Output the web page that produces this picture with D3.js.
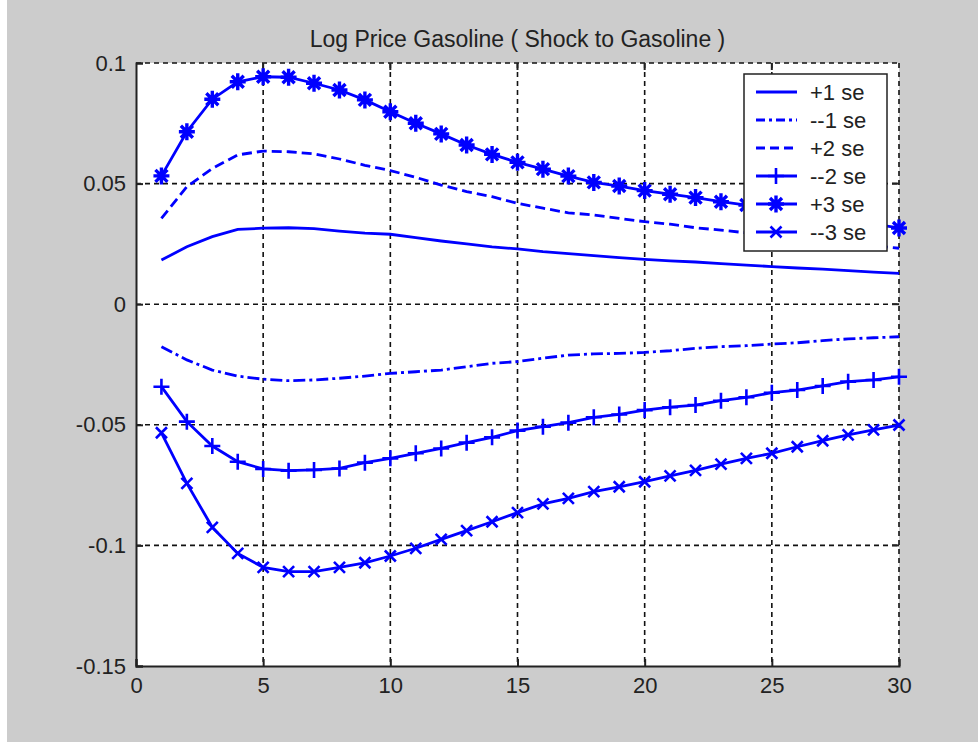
<!DOCTYPE html>
<html>
<head>
<meta charset="utf-8">
<script src="https://cdn.jsdelivr.net/npm/d3@7"></script>
<style>
  html, body { margin: 0; padding: 0; background: #fff; }
  svg { display: block; }
  text { font-family: "Liberation Sans", Arial, sans-serif; fill: #222; }
</style>
</head>
<body>
<svg id="chart" width="978" height="742"></svg>
<script>
// horizon steps
const steps = [1, 2, 3, 4, 5, 6, 7, 8, 9, 10, 11, 12, 13, 14, 15, 16, 17, 18, 19, 20, 21, 22, 23, 24, 25, 26, 27, 28, 29, 30]

const plus1 = [0.0183, 0.0238, 0.0280, 0.0310, 0.0315, 0.0317, 0.0313, 0.0303, 0.0295, 0.0290, 0.0276, 0.0262, 0.0250, 0.0238, 0.0229, 0.0218, 0.0210, 0.0201, 0.0193, 0.0186, 0.0180, 0.0175, 0.0168, 0.0162, 0.0156, 0.0150, 0.0145, 0.0139, 0.0133, 0.0128]
const minus1 = [-0.0176, -0.0231, -0.0273, -0.0298, -0.0311, -0.0317, -0.0314, -0.0307, -0.0298, -0.0287, -0.0280, -0.0273, -0.0259, -0.0245, -0.0238, -0.0224, -0.0211, -0.0206, -0.0204, -0.0200, -0.0193, -0.0183, -0.0176, -0.0172, -0.0165, -0.0160, -0.0151, -0.0144, -0.0139, -0.0135]
const plus2 = [0.0356, 0.0487, 0.0563, 0.0619, 0.0635, 0.0632, 0.0623, 0.0602, 0.0576, 0.0554, 0.0526, 0.0494, 0.0467, 0.0446, 0.0418, 0.0398, 0.0379, 0.0370, 0.0356, 0.0342, 0.0332, 0.0317, 0.0307, 0.0296, 0.0285, 0.0274, 0.0263, 0.0252, 0.0242, 0.0232]
const minus2 = [-0.0342, -0.0487, -0.0588, -0.0653, -0.0683, -0.0690, -0.0687, -0.0681, -0.0657, -0.0639, -0.0618, -0.0598, -0.0574, -0.0552, -0.0524, -0.0508, -0.0491, -0.0469, -0.0457, -0.0439, -0.0427, -0.0418, -0.0400, -0.0386, -0.0367, -0.0356, -0.0339, -0.0321, -0.0314, -0.0301]
const plus3 = [0.0532, 0.0715, 0.0850, 0.0922, 0.0943, 0.0941, 0.0916, 0.0888, 0.0847, 0.0798, 0.0750, 0.0706, 0.0660, 0.0621, 0.0588, 0.0560, 0.0531, 0.0505, 0.0490, 0.0471, 0.0456, 0.0442, 0.0425, 0.0411, 0.0395, 0.0380, 0.0364, 0.0348, 0.0332, 0.0316]
const minus3 = [-0.0533, -0.0743, -0.0925, -0.1033, -0.1091, -0.1109, -0.1109, -0.1091, -0.1072, -0.1044, -0.1012, -0.0975, -0.0939, -0.0902, -0.0864, -0.0828, -0.0805, -0.0777, -0.0757, -0.0736, -0.0712, -0.0689, -0.0663, -0.0639, -0.0618, -0.0591, -0.0566, -0.0542, -0.0521, -0.0501]

const seriesNames = ['+1 se', '--1 se', '+2 se', '--2 se', '+3 se', '--3 se']
const xTicks = [0, 5, 10, 15, 20, 25, 30]
const yTicks = [-0.15, -0.1, -0.05, 0, 0.05, 0.1]
const yTickLabels = ['-0.15', '-0.1', '-0.05', '0', '0.05', '0.1']

const series = [
  { name: seriesNames[0], values: plus1, dash: null, legendDash: null, marker: null },
  { name: seriesNames[1], values: minus1, dash: '12,4,3,4', legendDash: '9,4,3,4', marker: null },
  { name: seriesNames[2], values: plus2, dash: '10,5', legendDash: '9,5', marker: null },
  { name: seriesNames[3], values: minus2, dash: null, legendDash: null, marker: 'plus' },
  { name: seriesNames[4], values: plus3, dash: null, legendDash: null, marker: 'star' },
  { name: seriesNames[5], values: minus3, dash: null, legendDash: null, marker: 'cross' }
]

const W = 978
const H = 742
const margin = { left: 136, right: 79, top: 63, bottom: 76 }
const blue = '#0000ff'

const svg = d3.select('#chart')

// figure background
svg.append('rect').attr('x', 0).attr('y', 0).attr('width', W).attr('height', H).attr('fill', '#fff')
svg.append('rect').attr('x', 7).attr('y', 0).attr('width', W - 7).attr('height', H).attr('fill', '#cccccc')

const x = d3.scaleLinear().domain([0, 30]).range([margin.left, W - margin.right])
const y = d3.scaleLinear().domain([-0.15, 0.1]).range([H - margin.bottom, margin.top])

const x0 = x.range()[0], x1 = x.range()[1]
const y0 = y.range()[0], y1 = y.range()[1]

svg.append('rect')
  .attr('x', x0).attr('y', y1)
  .attr('width', x1 - x0).attr('height', y0 - y1)
  .attr('fill', '#fff')

// dashed grid
const grid = svg.append('g')
grid.selectAll('line.vg')
  .data(xTicks.filter(d => d > 0 && d < 30))
  .enter().append('line')
  .attr('x1', d => x(d)).attr('x2', d => x(d))
  .attr('y1', y1).attr('y2', y0)
grid.selectAll('line.hg')
  .data(yTicks.filter(d => d > -0.15 && d < 0.1))
  .enter().append('line')
  .attr('y1', d => y(d)).attr('y2', d => y(d))
  .attr('x1', x0).attr('x2', x1)
// top/right edges are dashed grid too
grid.append('line').attr('x1', x0).attr('x2', x1).attr('y1', y1).attr('y2', y1)
grid.append('line').attr('x1', x1).attr('x2', x1).attr('y1', y1).attr('y2', y0)
grid.selectAll('line')
  .attr('stroke', '#111')
  .attr('stroke-width', 1.6)
  .attr('stroke-dasharray', '5,4')

// axes
const xAxis = d3.axisBottom(x).tickValues(xTicks).tickSize(-7).tickPadding(12).tickFormat(d3.format('d'))
const yAxis = d3.axisLeft(y).tickValues(yTicks).tickSize(-7).tickPadding(10)
  .tickFormat((d, i) => yTickLabels[i])

const gx = svg.append('g').attr('transform', `translate(0,${y0})`).call(xAxis)
const gy = svg.append('g').attr('transform', `translate(${x0},0)`).call(yAxis)

;[gx, gy].forEach(g => {
  g.select('.domain').attr('stroke', '#222').attr('stroke-width', 2)
  g.selectAll('.tick line').attr('stroke', '#222').attr('stroke-width', 2)
  g.selectAll('.tick text')
    .style('font-family', '"Liberation Sans", Arial, sans-serif')
    .style('font-size', '22px')
    .attr('fill', '#222')
})
gx.selectAll('.tick text').attr('dy', '0.68em')

// small inward ticks on top and right edges
svg.append('g').selectAll('line')
  .data(xTicks.slice(1, -1))
  .enter().append('line')
  .attr('x1', d => x(d)).attr('x2', d => x(d))
  .attr('y1', y1).attr('y2', y1 + 7)
  .attr('stroke', '#222').attr('stroke-width', 2)
svg.append('g').selectAll('line')
  .data(yTicks.slice(1, -1))
  .enter().append('line')
  .attr('x1', x1).attr('x2', x1 - 7)
  .attr('y1', d => y(d)).attr('y2', d => y(d))
  .attr('stroke', '#222').attr('stroke-width', 2)

// markers
function drawMarker (g, type) {
  if (type === 'plus') {
    g.append('path').attr('d', 'M-8,0L8,0M0,-8L0,8')
      .attr('stroke', blue).attr('stroke-width', 2.6).attr('fill', 'none')
  } else if (type === 'star') {
    g.append('path').attr('d', 'M-8,0L8,0M0,-8.5L0,8.5M-6,-6L6,6M-6,6L6,-6')
      .attr('stroke', blue).attr('stroke-width', 3.4).attr('fill', 'none')
  } else if (type === 'cross') {
    g.append('path').attr('d', 'M-5.5,-5.5L5.5,5.5M-5.5,5.5L5.5,-5.5')
      .attr('stroke', blue).attr('stroke-width', 2.6).attr('fill', 'none')
  }
}

const line = d3.line()
  .x((d, i) => x(steps[i]))
  .y(d => y(d))

const plot = svg.append('g')
series.forEach(s => {
  plot.append('path')
    .datum(s.values)
    .attr('d', line)
    .attr('fill', 'none')
    .attr('stroke', blue)
    .attr('stroke-width', 2.8)
    .attr('stroke-dasharray', s.dash)
  if (s.marker) {
    s.values.forEach((v, i) => {
      const g = plot.append('g').attr('transform', `translate(${x(steps[i])},${y(v)})`)
      drawMarker(g, s.marker)
    })
  }
})

// title
svg.append('text')
  .attr('x', (x0 + x1) / 2)
  .attr('y', 47)
  .attr('text-anchor', 'middle')
  .style('font-size', '23px')
  .text('Log Price Gasoline ( Shock to Gasoline )')

// legend
const legend = svg.append('g').attr('transform', 'translate(744,74)')
legend.append('rect')
  .attr('width', 143).attr('height', 177)
  .attr('fill', '#fff').attr('stroke', '#222').attr('stroke-width', 1.5)

series.forEach((s, i) => {
  const row = legend.append('g').attr('transform', `translate(0,${18 + i * 28})`)
  row.append('line')
    .attr('x1', 12).attr('x2', 53).attr('y1', 0).attr('y2', 0)
    .attr('stroke', blue).attr('stroke-width', 2.8)
    .attr('stroke-dasharray', s.legendDash)
  if (s.marker) {
    drawMarker(row.append('g').attr('transform', 'translate(32,0)'), s.marker)
  }
  row.append('text')
    .attr('x', 66).attr('y', 0).attr('dy', '0.36em')
    .style('font-size', '22px')
    .text(s.name)
})
</script>
</body>
</html>
